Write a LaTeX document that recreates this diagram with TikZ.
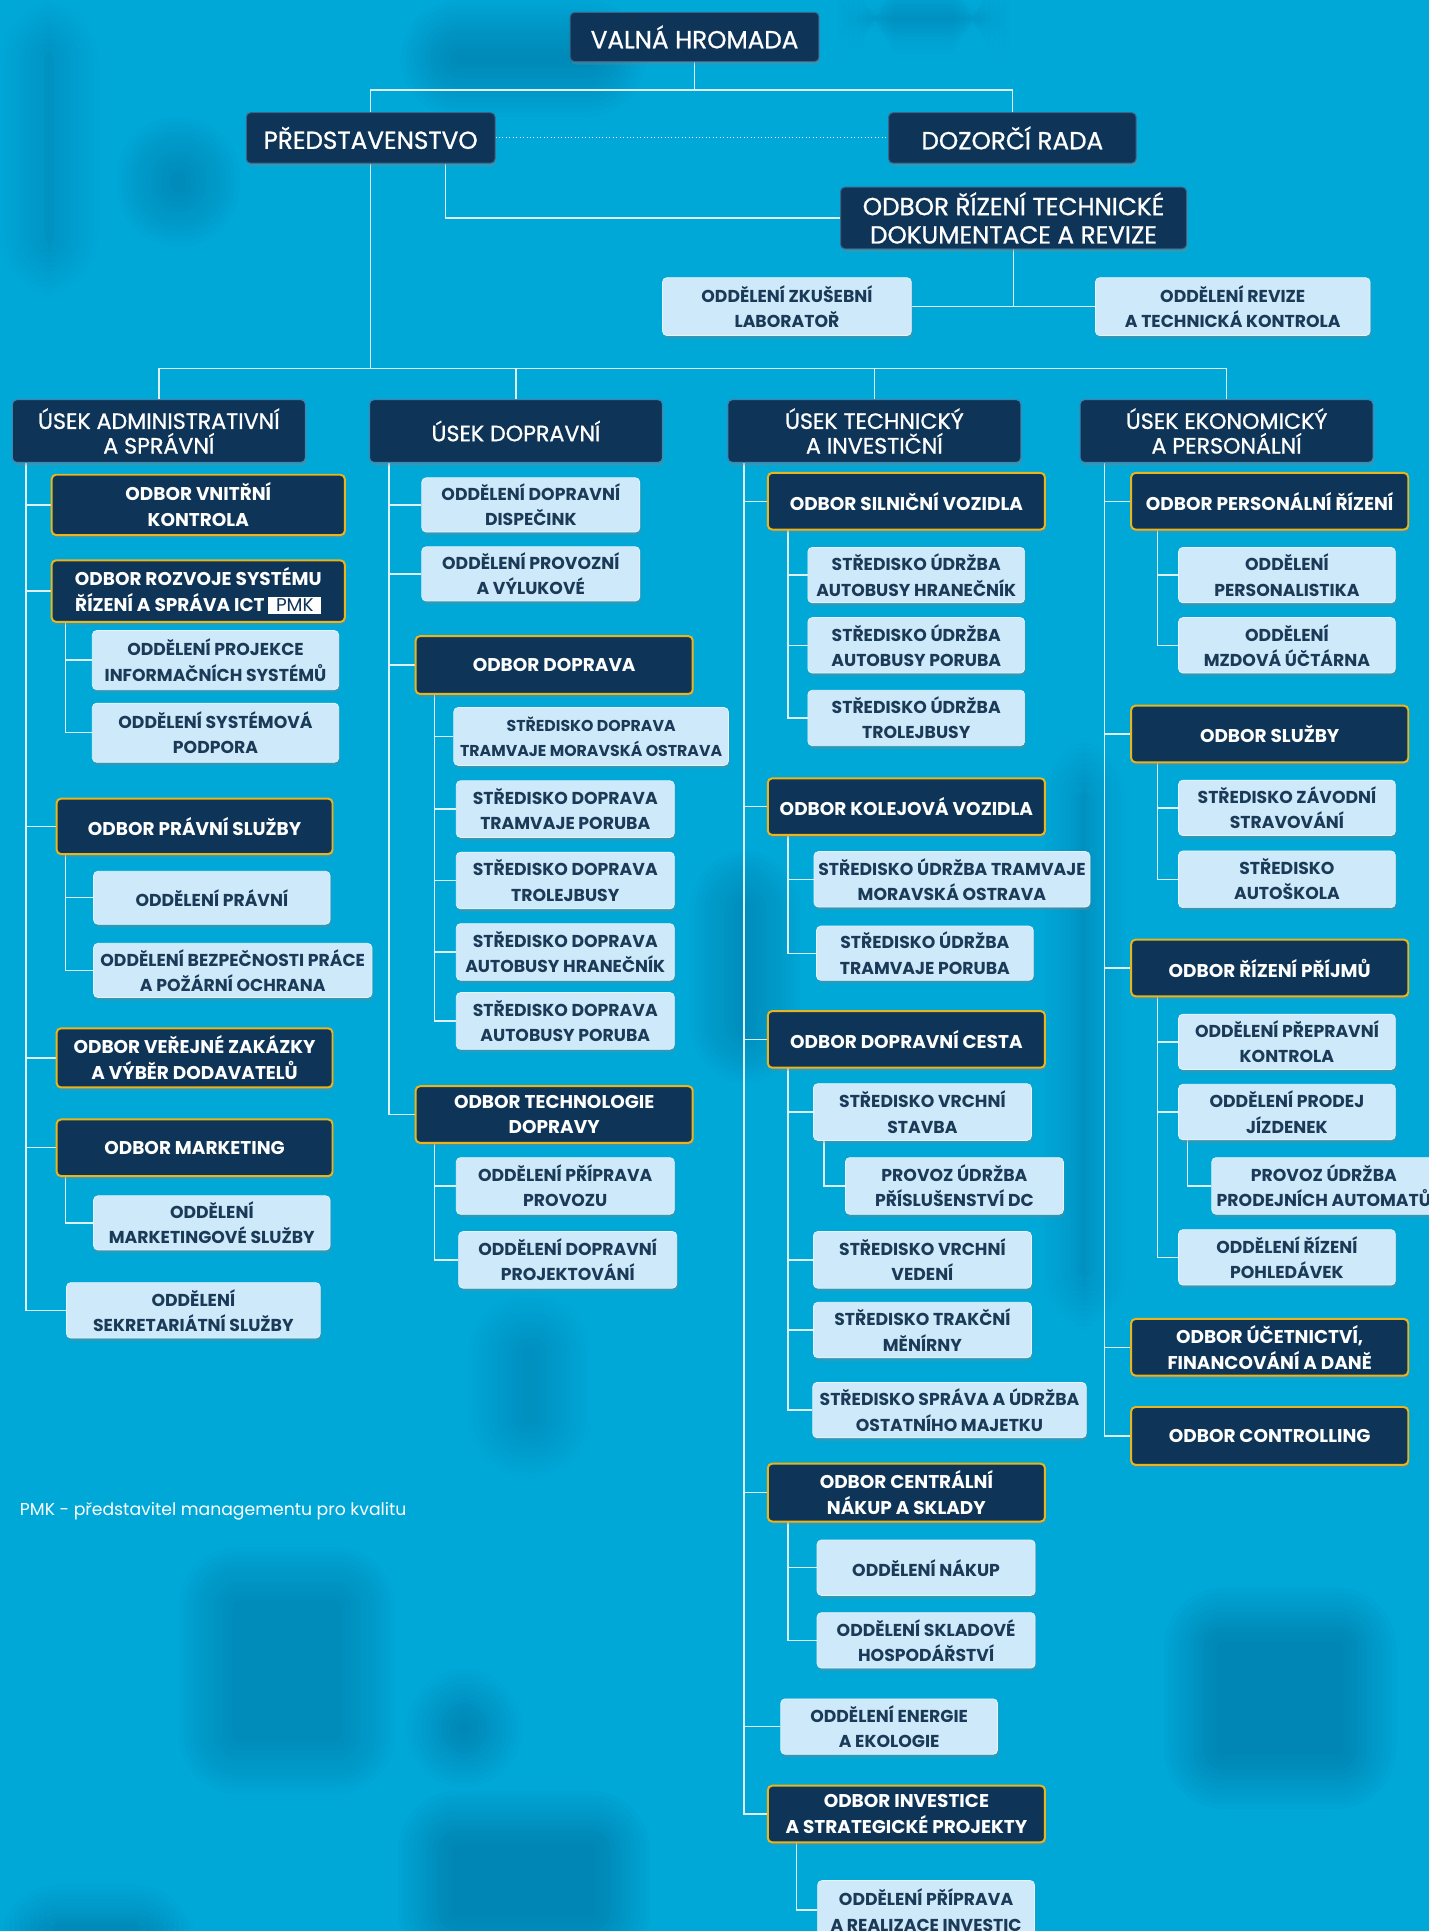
\documentclass[tikz,border=0pt]{standalone}
\usepackage{fontspec}
\setmainfont{Poppins}
\newfontfamily\medfont{Poppins}[FakeBold=0.9]
\usetikzlibrary{shadows}
\definecolor{bg}{HTML}{00A8D8}
\definecolor{patchc}{HTML}{005F8C}
\definecolor{navy}{HTML}{0E3557}
\definecolor{navyedge}{HTML}{3A6488}
\definecolor{usekedge}{HTML}{3C86B4}
\definecolor{gold}{HTML}{E8B51E}
\definecolor{light}{HTML}{CDE9FA}
\definecolor{lightedge}{HTML}{E6F4FC}
\definecolor{textnavy}{HTML}{1A3A58}
\definecolor{linec}{HTML}{DDF1FA}
\pgfdeclarelayer{bgl}
\pgfsetlayers{bgl,main}
\newcommand\pmkbadge{{\setlength\fboxsep{2pt}\colorbox{white}{\color{navy}\mdseries\fontsize{15}{15}\selectfont\;PMK\;}}}
\newcommand\softpatch[5]{\foreach \k in {0,...,11} {\fill[patchc, opacity=#5, rounded corners={(12-\k)*4pt+1pt}] (#1+\k*4,#2+\k*4) rectangle (#3-\k*4,#4-\k*4);}}
\begin{document}
\begin{tikzpicture}[x=1pt,y=-1pt,
  bx/.style 2 args={minimum width=#1pt, minimum height=#2pt},
  box/.style={rounded corners=3.5pt, align=center, inner sep=1pt,
    drop shadow={shadow xshift=1pt, shadow yshift=-2.5pt, opacity=0.35}},
  topbox/.style={box, fill=navy, draw=navyedge, line width=0.8pt, text=white, font=\medfont\fontsize{20}{23}\selectfont},
  usek/.style={box, fill=navy, draw=usekedge, line width=1pt, text=white, font=\medfont\fontsize{18}{20}\selectfont},
  odbor/.style={box, fill=navy, draw=gold, line width=1.6pt, text=white, font=\bfseries\fontsize{15}{21}\selectfont},
  odd/.style={box, fill=light, draw=lightedge, line width=0.6pt, text=textnavy, font=\bfseries\fontsize{14}{20.5}\selectfont},
  conn/.style={draw=linec, line width=1.1pt},
  dotline/.style={draw=white, line width=0.8pt, dotted}]
\useasboundingbox (0,0) rectangle (1160,1568);

% top
\node[topbox, bx={202}{40}] (vh) at (564,30) {VALNÁ HROMADA};
\node[topbox, bx={202}{41}] (pr) at (301,112) {PŘEDSTAVENSTVO};
\node[topbox, bx={201}{41}] (dr) at (822,112) {DOZORČÍ RADA};
\node[topbox, bx={281}{50}] (ortd) at (823,177) {ODBOR ŘÍZENÍ TECHNICKÉ\\DOKUMENTACE A REVIZE};
\node[odd, bx={202}{47}] (lab) at (639,249) {ODDĚLENÍ ZKUŠEBNÍ\\LABORATOŘ};
\node[odd, bx={223}{47}] (rev) at (1001,249) {ODDĚLENÍ REVIZE\\A TECHNICKÁ KONTROLA};

% useky
\node[usek, bx={238}{51}] (ua) at (129,350) {ÚSEK ADMINISTRATIVNÍ\\A SPRÁVNÍ};
\node[usek, bx={238}{51}] (ud) at (419,350) {ÚSEK DOPRAVNÍ};
\node[usek, bx={238}{51}] (ut) at (710,350) {ÚSEK TECHNICKÝ\\A INVESTIČNÍ};
\node[usek, bx={238}{51}] (ue) at (996,350) {ÚSEK EKONOMICKÝ\\A PERSONÁLNÍ};

% column 1
\node[odbor, bx={238}{49}] (ovk) at (161,410) {ODBOR VNITŘNÍ\\KONTROLA};
\node[odbor, bx={238}{50}] (ors) at (161,480) {ODBOR ROZVOJE SYSTÉMU\\ŘÍZENÍ A SPRÁVA ICT \pmkbadge};
\node[odd, bx={200}{48}] (opi) at (175,536) {ODDĚLENÍ PROJEKCE\\INFORMAČNÍCH SYSTÉMŮ};
\node[odd, bx={200}{48}] (osp) at (175,595) {ODDĚLENÍ SYSTÉMOVÁ\\PODPORA};
\node[odbor, bx={224}{45}] (ops) at (158,671) {ODBOR PRÁVNÍ SLUŽBY};
\node[odd, bx={192}{43}] (opr) at (172,729) {ODDĚLENÍ PRÁVNÍ};
\node[odd, bx={226}{44}] (obp) at (189,788) {ODDĚLENÍ BEZPEČNOSTI PRÁCE\\A POŽÁRNÍ OCHRANA};
\node[odbor, bx={224}{48}] (ovz) at (158,859) {ODBOR VEŘEJNÉ ZAKÁZKY\\A VÝBĚR DODAVATELŮ};
\node[odbor, bx={224}{46}] (omk) at (158,932) {ODBOR MARKETING};
\node[odd, bx={192}{44}] (oms) at (172,993) {ODDĚLENÍ\\MARKETINGOVÉ SLUŽBY};
\node[odd, bx={206}{45}] (oss) at (157,1064) {ODDĚLENÍ\\SEKRETARIÁTNÍ SLUŽBY};
\node[anchor=west, text=white, inner sep=0pt, font=\fontsize{14}{16}\selectfont] (fn) at (16,1227) {PMK - představitel managementu pro kvalitu};

% column 2
\node[odd, bx={177}{44}] (oddi) at (431,410) {ODDĚLENÍ DOPRAVNÍ\\DISPEČINK};
\node[odd, bx={177}{44}] (opv) at (431,466) {ODDĚLENÍ PROVOZNÍ\\A VÝLUKOVÉ};
\node[odbor, bx={225}{47}] (odp) at (450,540) {ODBOR DOPRAVA};
\node[odd, bx={223}{47}, font=\bfseries\fontsize{12.8}{20}\selectfont] (sdmo) at (480,598) {STŘEDISKO DOPRAVA\\TRAMVAJE MORAVSKÁ OSTRAVA};
\node[odd, bx={177}{46}] (sdtp) at (459,657) {STŘEDISKO DOPRAVA\\TRAMVAJE PORUBA};
\node[odd, bx={177}{46}] (sdt) at (459,715) {STŘEDISKO DOPRAVA\\TROLEJBUSY};
\node[odd, bx={177}{46}] (sdah) at (459,773) {STŘEDISKO DOPRAVA\\AUTOBUSY HRANEČNÍK};
\node[odd, bx={177}{46}] (sdap) at (459,829) {STŘEDISKO DOPRAVA\\AUTOBUSY PORUBA};
\node[odbor, bx={225}{46}] (otd) at (450,905) {ODBOR TECHNOLOGIE\\DOPRAVY};
\node[odd, bx={177}{46}] (opp) at (459,963) {ODDĚLENÍ PŘÍPRAVA\\PROVOZU};
\node[odd, bx={177}{46}] (odpr) at (461,1023) {ODDĚLENÍ DOPRAVNÍ\\PROJEKTOVÁNÍ};

% column 3
\node[odbor, bx={225}{46}] (osv) at (736,407) {ODBOR SILNIČNÍ VOZIDLA};
\node[odd, bx={176}{45}] (suah) at (744,467) {STŘEDISKO ÚDRŽBA\\AUTOBUSY HRANEČNÍK};
\node[odd, bx={176}{45}] (suap) at (744,524) {STŘEDISKO ÚDRŽBA\\AUTOBUSY PORUBA};
\node[odd, bx={176}{45}] (sut) at (744,583) {STŘEDISKO ÚDRŽBA\\TROLEJBUSY};
\node[odbor, bx={225}{46}] (okv) at (736,655) {ODBOR KOLEJOVÁ VOZIDLA};
\node[odd, bx={224}{45}] (sutmo) at (773,714) {STŘEDISKO ÚDRŽBA TRAMVAJE\\MORAVSKÁ OSTRAVA};
\node[odd, bx={176}{44}] (sutp) at (751,774) {STŘEDISKO ÚDRŽBA\\TRAMVAJE PORUBA};
\node[odbor, bx={225}{46}] (odc) at (736,844) {ODBOR DOPRAVNÍ CESTA};
\node[odd, bx={177}{46}] (svs) at (749,903) {STŘEDISKO VRCHNÍ\\STAVBA};
\node[odd, bx={177}{46}] (pup) at (775,963) {PROVOZ ÚDRŽBA\\PŘÍSLUŠENSTVÍ DC};
\node[odd, bx={177}{46}] (svv) at (749,1023) {STŘEDISKO VRCHNÍ\\VEDENÍ};
\node[odd, bx={177}{45}] (stm) at (749,1080) {STŘEDISKO TRAKČNÍ\\MĚNÍRNY};
\node[odd, bx={222}{45}] (ssu) at (771,1145) {STŘEDISKO SPRÁVA A ÚDRŽBA\\OSTATNÍHO MAJETKU};
\node[odbor, bx={225}{47}] (ocn) at (736,1212) {ODBOR CENTRÁLNÍ\\NÁKUP A SKLADY};
\node[odd, bx={177}{45}] (onk) at (752,1273) {ODDĚLENÍ NÁKUP};
\node[odd, bx={177}{45}] (osh) at (752,1332) {ODDĚLENÍ SKLADOVÉ\\HOSPODÁŘSTVÍ};
\node[odd, bx={176}{45}] (oee) at (722,1402) {ODDĚLENÍ ENERGIE\\A EKOLOGIE};
\node[odbor, bx={225}{46}] (oisp) at (736,1473) {ODBOR INVESTICE\\A STRATEGICKÉ PROJEKTY};
\node[odd, bx={176}{48}] (opri) at (752,1551) {ODDĚLENÍ PŘÍPRAVA\\A REALIZACE INVESTIC};

% column 4
\node[odbor, bx={225}{46}] (opz) at (1031,407) {ODBOR PERSONÁLNÍ ŘÍZENÍ};
\node[odd, bx={176}{45}] (ope) at (1045,467) {ODDĚLENÍ\\PERSONALISTIKA};
\node[odd, bx={176}{45}] (omu) at (1045,524) {ODDĚLENÍ\\MZDOVÁ ÚČTÁRNA};
\node[odbor, bx={225}{46}] (osl) at (1031,596) {ODBOR SLUŽBY};
\node[odd, bx={176}{45}] (szs) at (1045,656) {STŘEDISKO ZÁVODNÍ\\STRAVOVÁNÍ};
\node[odd, bx={176}{46}] (sas) at (1045,714) {STŘEDISKO\\AUTOŠKOLA};
\node[odbor, bx={225}{46}] (orp) at (1031,786) {ODBOR ŘÍZENÍ PŘÍJMŮ};
\node[odd, bx={176}{45}] (opk) at (1045,846) {ODDĚLENÍ PŘEPRAVNÍ\\KONTROLA};
\node[odd, bx={176}{45}] (opj) at (1045,903) {ODDĚLENÍ PRODEJ\\JÍZDENEK};
\node[odd, bx={182}{46}] (pupa) at (1075,963) {PROVOZ ÚDRŽBA\\PRODEJNÍCH AUTOMATŮ};
\node[odd, bx={176}{45}] (orpo) at (1045,1021) {ODDĚLENÍ ŘÍZENÍ\\POHLEDÁVEK};
\node[odbor, bx={225}{46}] (ouf) at (1031,1094) {ODBOR ÚČETNICTVÍ,\\FINANCOVÁNÍ A DANĚ};
\node[odbor, bx={225}{47}] (oco) at (1031,1166) {ODBOR CONTROLLING};

\begin{pgfonlayer}{bgl}
\fill[bg] (0,0) rectangle (1160,1568);
% soft background patches
\softpatch{0}{0}{80}{240}{0.025}
\softpatch{95}{95}{195}{200}{0.03}
\softpatch{325}{0}{525}{95}{0.035}
\softpatch{680}{0}{820}{30}{0.02}
\softpatch{560}{690}{650}{880}{0.03}
\softpatch{845}{600}{915}{1080}{0.02}
\softpatch{380}{1050}{480}{1200}{0.02}
\softpatch{145}{1256}{321}{1457}{0.03}
\softpatch{330}{1355}{424}{1452}{0.04}
\softpatch{945}{1289}{1134}{1469}{0.045}
\softpatch{323}{1454}{528}{1600}{0.045}
\softpatch{0}{1530}{157}{1600}{0.035}
\coordinate (y73) at (0,73);
\coordinate (yus) at (0,299);
\draw[conn] (vh.south) -- (vh.south |- y73);
\draw[conn] (pr.north) |- (vh.south |- y73) -| (dr.north);
\draw[dotline] (pr.east) -- (dr.west);
\draw[conn] ([xshift=61pt]pr.south) |- (ortd.west);
\draw[conn] (ortd.south) |- (lab.east);
\draw[conn] (ortd.south) |- (rev.west);
\draw[conn] (pr.south) -- (pr.south |- yus);
\draw[conn] (ua.north) |- (pr.south |- yus) -| (ue.north);
\draw[conn] (ud.north) -- (ud.north |- yus);
\draw[conn] (ut.north) -- (ut.north |- yus);
% trunks
\coordinate (ta) at (21,375);
\coordinate (tb) at (53,505);
\coordinate (tc) at (53,693);
\coordinate (td) at (53,955);
\coordinate (te) at (316,375);
\coordinate (tf) at (353,563);
\coordinate (tg) at (353,928);
\coordinate (th) at (604,375);
\coordinate (ti) at (640,430);
\coordinate (tj) at (640,678);
\coordinate (tk) at (640,867);
\coordinate (tl) at (669,926);
\coordinate (tm) at (640,1236);
\coordinate (tn) at (647,1496);
\coordinate (to) at (897,375);
\coordinate (tp) at (940,430);
\coordinate (tq) at (940,619);
\coordinate (tr) at (940,809);
\coordinate (ts) at (964,926);
\foreach \t/\n in {ta/ovk,ta/ors,ta/ops,ta/ovz,ta/omk,ta/oss,
  tb/opi,tb/osp,tc/opr,tc/obp,td/oms,
  te/oddi,te/opv,te/odp,te/otd,
  tf/sdmo,tf/sdtp,tf/sdt,tf/sdah,tf/sdap,tg/opp,tg/odpr,
  th/osv,th/okv,th/odc,th/ocn,th/oee,th/oisp,
  ti/suah,ti/suap,ti/sut,tj/sutmo,tj/sutp,
  tk/svs,tk/svv,tk/stm,tk/ssu,tl/pup,tm/onk,tm/osh,tn/opri,
  to/opz,to/osl,to/orp,to/ouf,to/oco,
  tp/ope,tp/omu,tq/szs,tq/sas,tr/opk,tr/opj,tr/orpo,ts/pupa}
  \draw[conn] (\t) |- (\n.west);
\end{pgfonlayer}
\end{tikzpicture}
\end{document}
